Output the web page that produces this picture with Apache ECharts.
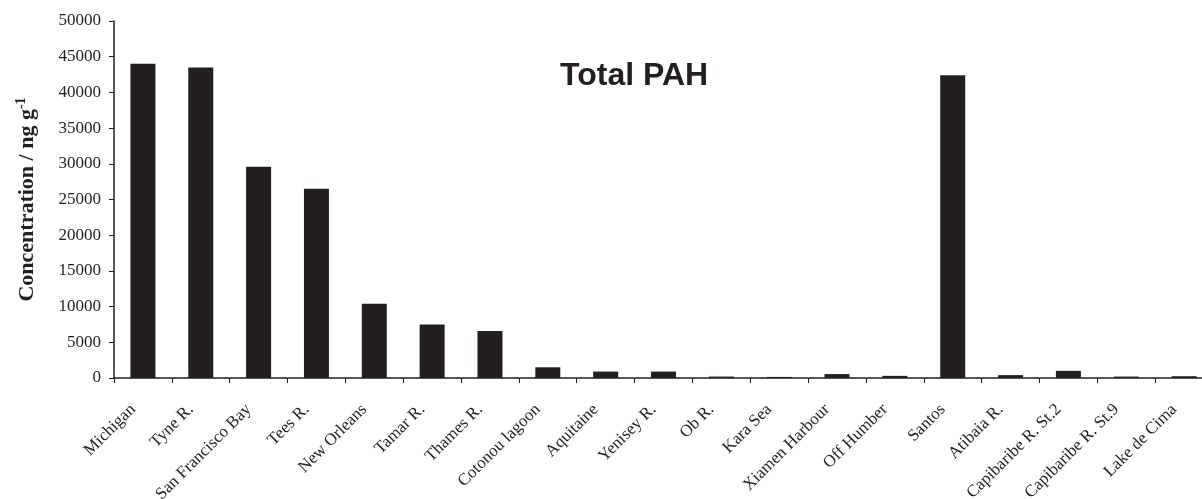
<!DOCTYPE html>
<html>
<head>
<meta charset="utf-8">
<script src="https://cdn.jsdelivr.net/npm/echarts@6/dist/echarts.min.js"></script>
<style>
  html, body { margin: 0; padding: 0; background: #fff; }
  #chart { width: 1202px; height: 499px; }
</style>
</head>
<body>
<div id="chart"></div>
<script>
// Sampling sites
const sites = [
  'Michigan', 'Tyne R.', 'San Francisco Bay', 'Tees R.', 'New Orleans',
  'Tamar R.', 'Thames R.', 'Cotonou lagoon', 'Aquitaine', 'Yenisey R.',
  'Ob R.', 'Kara Sea', 'Xiamen Harbour', 'Off Humber', 'Santos',
  'Atibaia R.', 'Capibaribe R. St.2', 'Capibaribe R. St.9', 'Lake de Cima'
];

// Total PAH concentration, ng g-1
const totalPAH = [
  44000, 43500, 29600, 26500, 10400,
  7500, 6600, 1500, 900, 900,
  200, 150, 550, 300, 42400,
  400, 1000, 200, 250
];

// Concentration axis ticks
const yTicks = [0, 5000, 10000, 15000, 20000, 25000, 30000, 35000, 40000, 45000, 50000];

const ink = '#231f20';
const serif = '"Liberation Serif", "Times New Roman", serif';

const chart = echarts.init(document.getElementById('chart'));
chart.setOption({
  animation: false,
  backgroundColor: '#fff',
  title: {
    text: 'Total PAH',
    left: 555,
    top: 55,
    textStyle: {
      fontFamily: '"Liberation Sans", Arial, sans-serif',
      fontWeight: 'bold',
      fontSize: 32,
      color: ink
    }
  },
  grid: {
    left: 114, right: -11, top: 21, bottom: 121,
    containLabel: false,
    outerBoundsMode: 'none'
  },
  xAxis: {
    type: 'category',
    data: sites,
    boundaryGap: true,
    axisLine: { lineStyle: { color: ink, width: 1.5 } },
    axisTick: { show: true, alignWithLabel: false, length: 5, lineStyle: { color: ink, width: 1 } },
    axisLabel: {
      interval: 0,
      rotate: 45,
      margin: 19,
      padding: [0, 14, 0, 0],
      fontFamily: serif,
      fontSize: 17,
      color: ink
    }
  },
  yAxis: {
    type: 'value',
    min: yTicks[0],
    max: yTicks[yTicks.length - 1],
    interval: 5000,
    name: '{a|Concentration / ng g}{s|-1}',
    nameLocation: 'middle',
    nameGap: 74,
    nameTextStyle: {
      rich: {
        a: { fontFamily: serif, fontWeight: 'bold', fontSize: 22, color: ink },
        s: { fontFamily: serif, fontWeight: 'bold', fontSize: 14, color: ink, verticalAlign: 'top', padding: [0, 0, 12, 0] }
      }
    },
    splitLine: { show: false },
    axisLine: { show: true, lineStyle: { color: ink, width: 1.5 } },
    axisTick: { show: true, length: 5, lineStyle: { color: ink, width: 1 } },
    axisLabel: {
      margin: 13,
      fontFamily: serif,
      fontSize: 17,
      color: ink,
      formatter: v => String(v)
    }
  },
  series: [{
    type: 'bar',
    data: totalPAH,
    barWidth: 25,
    itemStyle: { color: ink }
  }]
});
</script>
</body>
</html>
